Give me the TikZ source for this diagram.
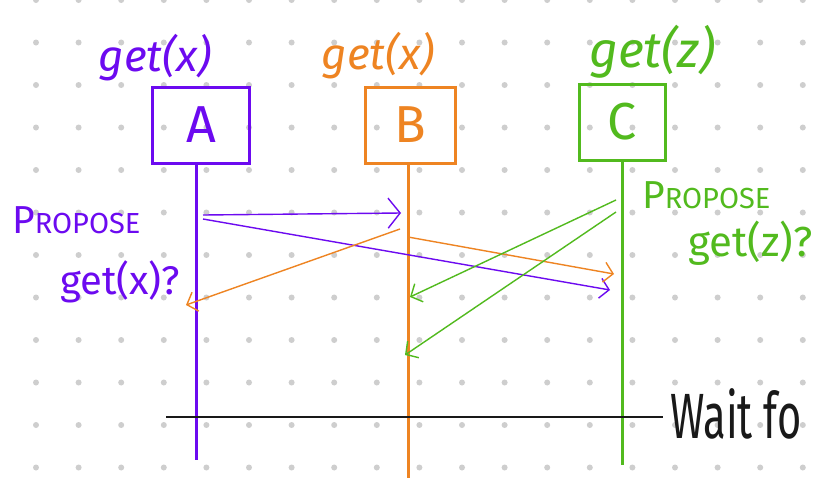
\documentclass[tikz,border=0pt]{standalone}
\usepackage{fontspec}
\setmainfont{Fira Sans}
\usepackage{xcolor}
\usepackage{tikz}
\usetikzlibrary{arrows.meta}

\definecolor{penA}{RGB}{108,10,240}
\definecolor{penB}{RGB}{238,132,34}
\definecolor{penC}{RGB}{82,186,30}
\definecolor{griddot}{RGB}{206,206,206}
\definecolor{ink}{RGB}{25,25,25}

\newcommand{\propose}[1]{\fontsize{39}{40}\selectfont P\fontsize{29}{40}\selectfont ROPOSE}

\begin{document}
\begin{tikzpicture}[
    x=1pt, y=-1pt,
    actor/.style = {rectangle, draw=#1, line width=3pt, text=#1,
                    minimum width=90pt, minimum height=76pt,
                    font=\fontsize{52}{52}\selectfont},
    call/.style  = {text=#1, font=\itshape\fontsize{44}{44}\selectfont},
    note/.style  = {text=#1, align=left, inner sep=0pt},
    life/.style  = {draw=#1, line width=3pt},
    msg/.style   = {draw=#1, line width=1.4pt,
                    -{Straight Barb[length=9pt, width=20pt]}},
    bigmsg/.style = {draw=#1, line width=1.4pt,
                    -{Straight Barb[length=12pt, width=30pt]}}
  ]
  \useasboundingbox (0,0) rectangle (832,488);
  \fill[white] (0,0) rectangle (832,488);

  % dotted paper
  \foreach \i in {0,...,18}
    \foreach \j in {0,...,11}
      \fill[griddot] (36+42.6*\i, 42.5*\j) circle (3pt);

  % the three actors
  \node[actor=penA, minimum width=97pt] (A) at (201,125) {A};
  \node[actor=penB] (B) at (410,125) {B};
  \node[actor=penC, minimum width=86pt] (C) at (622,122) {C};

  \node[call=penA] (ca) at (155,58) {get(x)};
  \node[call=penB] (cb) at (378,56) {get(x)};
  \node[call=penC, font=\itshape\fontsize{50}{50}\selectfont] (cc) at (652,52) {get(z)};

  % lifelines
  \coordinate (A-end) at (196,460);
  \coordinate (B-end) at (408,478);
  \coordinate (C-end) at (622,465);
  \draw[life=penA] (A.south -| A-end) -- (A-end);
  \draw[life=penB] (B.south -| B-end) -- (B-end);
  \draw[life=penC] (C.south -| C-end) -- (C-end);

  % message end points
  \coordinate (a1) at (203,215);
  \coordinate (a2) at (203,219);
  \coordinate (a3) at (186,305);
  \coordinate (b1) at (401,213);
  \coordinate (b2) at (400,229);
  \coordinate (b3) at (408,237);
  \coordinate (b4) at (410,297);
  \coordinate (b5) at (405,355);
  \coordinate (c1) at (610,290);
  \coordinate (c2) at (614,274);
  \coordinate (c3) at (616,200);
  \coordinate (c4) at (616,212);

  \draw[bigmsg=penA] (a1) -- (b1);
  \draw[msg=penA] (a2) -- (c1);
  \draw[msg=penB] (b2) -- (a3);
  \draw[msg=penB] (b3) -- (c2);
  \draw[msg=penC] (c3) -- (b4);
  \draw[msg=penC] (c4) -- (b5);

  % proposals
  \node[note=penA, anchor=north west] (pa) at (12,206)
    {\propose{}\\[26pt]
     \hspace*{48pt}\fontsize{40}{40}\selectfont get(x)?};
  \node[note=penC, anchor=north west] (pc) at (642,181)
    {\propose{}\\[12pt]
     \hspace*{46pt}\fontsize{42}{40}\selectfont get(z)?};

  % barrier
  \coordinate (w0) at (166,417);
  \coordinate (w1) at (663,417);
  \draw[ink, line width=1.6pt] (w0) -- (w1);
  \node[text=ink, anchor=west, xscale=0.65, transform shape,
        font=\fontsize{64}{64}\selectfont] (wait) at (668,414) {Wait fo};
\end{tikzpicture}
\end{document}
